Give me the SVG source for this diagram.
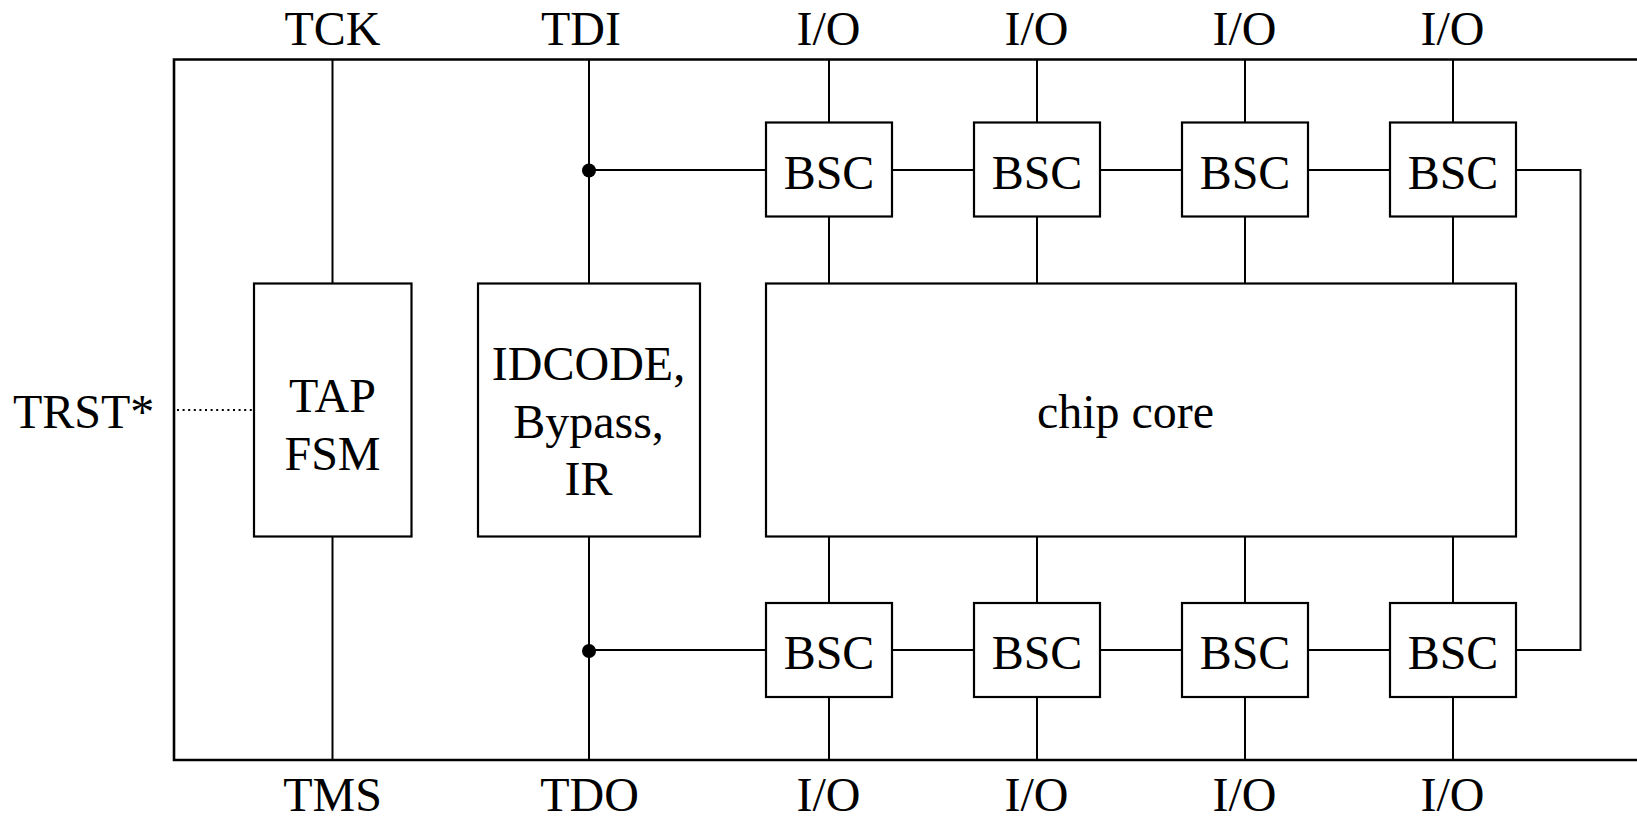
<svg xmlns="http://www.w3.org/2000/svg" width="1637" height="817" viewBox="0 0 1637 817">
  <style>
    .box { fill: #ffffff; stroke: #000000; stroke-width: 2.2; }
    .wire { fill: none; stroke: #000000; stroke-width: 2; }
    .outer { fill: none; stroke: #000000; stroke-width: 2.6; }
    .dotted { fill: none; stroke: #000000; stroke-width: 2; stroke-dasharray: 2 3.6; }
    text { font-size: 48px; fill: #000000; text-anchor: middle; }
    .lbl-left { text-anchor: start; }
  </style>
  <rect width="1637" height="817" fill="#ffffff"/>

  <g id="chip-boundary">
    <path class="outer" d="M1645,59.5 H174 V760 H1645"/>
  </g>

  <g id="connectors">
    <line class="wire" x1="332.5" y1="59.5" x2="332.5" y2="283.5"/>
    <line class="wire" x1="332.5" y1="536.5" x2="332.5" y2="760"/>
    <line class="wire" x1="589" y1="59.5" x2="589" y2="283.5"/>
    <line class="wire" x1="589" y1="536.5" x2="589" y2="760"/>
    <line class="dotted" x1="177" y1="410" x2="252" y2="410"/>
    <line class="wire" x1="589" y1="170" x2="766" y2="170"/>
    <line class="wire" x1="892" y1="170" x2="974" y2="170"/>
    <line class="wire" x1="1100" y1="170" x2="1182" y2="170"/>
    <line class="wire" x1="1308" y1="170" x2="1390" y2="170"/>
    <path class="wire" d="M1516,170 H1580.5 V650 H1516"/>
    <line class="wire" x1="589" y1="650" x2="766" y2="650"/>
    <line class="wire" x1="892" y1="650" x2="974" y2="650"/>
    <line class="wire" x1="1100" y1="650" x2="1182" y2="650"/>
    <line class="wire" x1="1308" y1="650" x2="1390" y2="650"/>
    <line class="wire" x1="829" y1="59.5" x2="829" y2="122.5"/>
    <line class="wire" x1="1037" y1="59.5" x2="1037" y2="122.5"/>
    <line class="wire" x1="1245" y1="59.5" x2="1245" y2="122.5"/>
    <line class="wire" x1="1453" y1="59.5" x2="1453" y2="122.5"/>
    <line class="wire" x1="829" y1="216.5" x2="829" y2="283.5"/>
    <line class="wire" x1="1037" y1="216.5" x2="1037" y2="283.5"/>
    <line class="wire" x1="1245" y1="216.5" x2="1245" y2="283.5"/>
    <line class="wire" x1="1453" y1="216.5" x2="1453" y2="283.5"/>
    <line class="wire" x1="829" y1="536.5" x2="829" y2="603"/>
    <line class="wire" x1="1037" y1="536.5" x2="1037" y2="603"/>
    <line class="wire" x1="1245" y1="536.5" x2="1245" y2="603"/>
    <line class="wire" x1="1453" y1="536.5" x2="1453" y2="603"/>
    <line class="wire" x1="829" y1="697" x2="829" y2="760"/>
    <line class="wire" x1="1037" y1="697" x2="1037" y2="760"/>
    <line class="wire" x1="1245" y1="697" x2="1245" y2="760"/>
    <line class="wire" x1="1453" y1="697" x2="1453" y2="760"/>
    <circle cx="589" cy="170.5" r="7" fill="#000000"/>
    <circle cx="589" cy="651" r="7" fill="#000000"/>
  </g>

  <g font-family="'Liberation Serif', 'DejaVu Serif', serif">
  <g id="tap-fsm">
    <rect class="box" x="254" y="283.5" width="157.5" height="253"/>
    <text x="332.5" y="411.5">TAP</text>
    <text x="332.5" y="470">FSM</text>
  </g>

  <g id="idcode">
    <rect class="box" x="478" y="283.5" width="222" height="253"/>
    <text x="588.5" y="380">IDCODE,</text>
    <text x="588.5" y="438">Bypass,</text>
    <text x="588.5" y="495">IR</text>
  </g>

  <g id="chip-core">
    <rect class="box" x="766" y="283.5" width="750" height="253"/>
    <text x="1125.5" y="428">chip core</text>
  </g>

  <g id="bsc-top-1"><rect class="box" x="766" y="122.5" width="126" height="94"/><text x="829" y="188.5">BSC</text></g>
  <g id="bsc-top-2"><rect class="box" x="974" y="122.5" width="126" height="94"/><text x="1037" y="188.5">BSC</text></g>
  <g id="bsc-top-3"><rect class="box" x="1182" y="122.5" width="126" height="94"/><text x="1245" y="188.5">BSC</text></g>
  <g id="bsc-top-4"><rect class="box" x="1390" y="122.5" width="126" height="94"/><text x="1453" y="188.5">BSC</text></g>

  <g id="bsc-bot-1"><rect class="box" x="766" y="603" width="126" height="94"/><text x="829" y="668.5">BSC</text></g>
  <g id="bsc-bot-2"><rect class="box" x="974" y="603" width="126" height="94"/><text x="1037" y="668.5">BSC</text></g>
  <g id="bsc-bot-3"><rect class="box" x="1182" y="603" width="126" height="94"/><text x="1245" y="668.5">BSC</text></g>
  <g id="bsc-bot-4"><rect class="box" x="1390" y="603" width="126" height="94"/><text x="1453" y="668.5">BSC</text></g>

  <g id="pin-labels">
    <text x="332.5" y="45">TCK</text>
    <text x="581" y="45">TDI</text>
    <text x="828.5" y="45">I/O</text>
    <text x="1036.5" y="45">I/O</text>
    <text x="1244.5" y="45">I/O</text>
    <text x="1452.5" y="45">I/O</text>
    <text x="332.5" y="811">TMS</text>
    <text x="589.5" y="811">TDO</text>
    <text x="828.5" y="811">I/O</text>
    <text x="1036.5" y="811">I/O</text>
    <text x="1244.5" y="811">I/O</text>
    <text x="1452.5" y="811">I/O</text>
    <text class="lbl-left" x="13" y="428">TRST*</text>
  </g>
  </g>
</svg>
